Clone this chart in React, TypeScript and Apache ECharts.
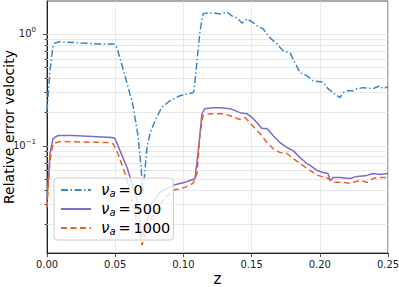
import React, { useEffect, useRef } from "react";
import * as echarts from "echarts";

// nu_a = 0
const zNu0 = [0, 0.0022, 0.0044, 0.0059, 0.0095, 0.0242, 0.0389, 0.0491, 0.0513, 0.0572, 0.063, 0.0667, 0.0689, 0.0704, 0.0718, 0.0733, 0.0755, 0.0792, 0.0841, 0.0902, 0.0975, 0.107, 0.1078, 0.11, 0.1122, 0.1144, 0.1173, 0.1217, 0.1268, 0.132, 0.1356, 0.1393, 0.143, 0.1466, 0.1503, 0.154, 0.1584, 0.1635, 0.1686, 0.173, 0.1782, 0.1818, 0.1855, 0.1906, 0.195, 0.2023, 0.206, 0.2097, 0.2148, 0.217, 0.22, 0.2243, 0.2273, 0.2317, 0.239, 0.2441, 0.2463, 0.25];
const vNu0 = [0.205, 0.47, 0.78, 0.83, 0.85, 0.83, 0.81, 0.81, 0.75, 0.42, 0.23, 0.123, 0.066, 0.036, 0.06, 0.096, 0.128, 0.167, 0.22, 0.252, 0.279, 0.297, 0.31, 0.574, 1.06, 1.51, 1.54, 1.54, 1.51, 1.57, 1.45, 1.39, 1.25, 1.36, 1.28, 1.18, 1.11, 0.921, 0.814, 0.705, 0.676, 0.551, 0.449, 0.422, 0.38, 0.37, 0.323, 0.297, 0.268, 0.297, 0.31, 0.31, 0.323, 0.33, 0.323, 0.343, 0.323, 0.336];

// nu_a = 500
const zNu500 = [0, 0.0022, 0.0044, 0.0081, 0.0191, 0.0477, 0.0499, 0.0535, 0.0587, 0.066, 0.0696, 0.0726, 0.0755, 0.0828, 0.0924, 0.1012, 0.1085, 0.1107, 0.1136, 0.1158, 0.1217, 0.1268, 0.1342, 0.1415, 0.1466, 0.1503, 0.154, 0.1576, 0.1613, 0.1657, 0.1708, 0.176, 0.1804, 0.1855, 0.1906, 0.1928, 0.198, 0.2023, 0.206, 0.2075, 0.2097, 0.2148, 0.2221, 0.2273, 0.2346, 0.239, 0.2441, 0.2493, 0.25];
const vNu500 = [0.0323, 0.0849, 0.1155, 0.123, 0.123, 0.118, 0.1155, 0.09, 0.0636, 0.0323, 0.0151, 0.019, 0.029, 0.038, 0.044, 0.0468, 0.0507, 0.0849, 0.193, 0.214, 0.218, 0.218, 0.214, 0.197, 0.193, 0.178, 0.16, 0.142, 0.142, 0.123, 0.106, 0.096, 0.09, 0.078, 0.069, 0.0663, 0.0598, 0.0574, 0.0562, 0.0487, 0.0518, 0.0518, 0.0507, 0.0529, 0.054, 0.0562, 0.0551, 0.0562, 0.0562];

// nu_a = 1000
const zNu1000 = [0, 0.0022, 0.0044, 0.0095, 0.044, 0.0484, 0.052, 0.0572, 0.063, 0.0696, 0.0755, 0.085, 0.0924, 0.1012, 0.107, 0.11, 0.1122, 0.1144, 0.1195, 0.129, 0.1342, 0.1378, 0.1415, 0.1452, 0.1488, 0.1525, 0.1562, 0.1613, 0.1657, 0.1708, 0.176, 0.1804, 0.1855, 0.1928, 0.1987, 0.206, 0.2097, 0.217, 0.2221, 0.2295, 0.2346, 0.239, 0.2441, 0.25];
const vNu1000 = [0.0279, 0.0735, 0.104, 0.1086, 0.1064, 0.104, 0.0849, 0.0562, 0.0303, 0.0128, 0.0214, 0.0323, 0.0397, 0.0422, 0.0458, 0.0562, 0.128, 0.185, 0.193, 0.193, 0.185, 0.178, 0.171, 0.178, 0.16, 0.142, 0.128, 0.1064, 0.094, 0.0866, 0.0849, 0.0766, 0.069, 0.0598, 0.054, 0.0507, 0.0468, 0.0468, 0.0458, 0.0487, 0.0468, 0.0507, 0.0518, 0.0518];

const seriesNames = ["nu0", "nu500", "nu1000"];
const legendValues = ["0", "500", "1000"];
const yMajorTicks = [0.1, 1];
const yMinorTicks = [0.02, 0.03, 0.04, 0.05, 0.06, 0.07, 0.08, 0.09, 0.2, 0.3, 0.4, 0.5, 0.6, 0.7, 0.8, 0.9];
const yMin = 0.0109;
const yMax = 1.97;

const FONT = "DejaVu Sans";

export default function App() {
  const ref = useRef<HTMLDivElement>(null);
  useEffect(() => {
    if (!ref.current) return;
    const chart = echarts.init(ref.current, null, { renderer: "svg" });
    const pairs = (z: number[], v: number[]) => z.map((x, i) => [x, v[i]]);
    const tickData = [
      ...yMajorTicks.map((v) => [0, v, 1]),
      ...yMinorTicks.map((v) => [0, v, 0]),
    ];
    const legendMap: Record<string, string> = {};
    seriesNames.forEach((n, i) => (legendMap[n] = legendValues[i]));
    chart.setOption({
      animation: false,
      grid: {
        left: 47, right: 11, top: 1, bottom: 34,
        containLabel: false,
        outerBoundsMode: "none",
        show: true, borderColor: "#555", borderWidth: 1, backgroundColor: "transparent",
      },
      xAxis: {
        type: "value",
        min: 0,
        max: 0.25,
        interval: 0.05,
        name: "z",
        nameLocation: "middle",
        nameGap: 18,
        nameMoveOverlap: false,
        nameTextStyle: { fontFamily: FONT, fontSize: 15, color: "#000" },
        axisLine: { lineStyle: { color: "#222", width: 1 } },
        axisTick: { show: true, inside: false, length: 4, lineStyle: { color: "#222", width: 0.8 } },
        axisLabel: { fontFamily: FONT, fontSize: 10, color: "#222", margin: 6, formatter: (v: number) => v.toFixed(2) },
        splitLine: { show: true, lineStyle: { color: "#e3e3e3", width: 0.8 } },
      },
      yAxis: {
        type: "log",
        logBase: 10,
        min: yMin,
        max: yMax,
        name: "Relative error velocity",
        nameLocation: "middle",
        nameGap: 31,
        nameMoveOverlap: false,
        nameRotate: 90,
        nameTextStyle: { fontFamily: FONT, fontSize: 14, color: "#000" },
        axisLine: { show: true, lineStyle: { color: "#222", width: 1 } },
        axisTick: { show: false },
        splitLine: { show: false },
        axisLabel: {
          showMinLabel: false,
          showMaxLabel: false,
          margin: 11,
          fontFamily: FONT,
          fontSize: 10,
          color: "#222",
          formatter: (v: number) => {
            const e = Math.log10(v);
            const r = Math.round(e);
            if (Math.abs(e - r) > 1e-6) return "";
            const exp = r < 0 ? "\u2212" + Math.abs(r) : String(r);
            return `{b|10}{s|${exp}}`;
          },
          rich: {
            b: { fontFamily: FONT, fontSize: 10, color: "#222" },
            s: { fontFamily: FONT, fontSize: 7, color: "#222", padding: [0, 0, 8, 0] },
          },
        },
      },
      legend: {
        show: true,
        orient: "vertical",
        left: 54,
        top: 178,
        data: seriesNames,
        itemWidth: 30,
        itemHeight: 14,
        itemGap: 3,
        padding: [4, 3, 4, 6],
        backgroundColor: "rgba(255,255,255,0.8)",
        borderColor: "#cccccc",
        borderWidth: 1,
        borderRadius: 3,
        itemStyle: { opacity: 0, borderWidth: 0 },
        formatter: (name: string) => `{g|\u03bd}{sub|a}{t|\u2009=\u2009${legendMap[name]}}`,
        textStyle: {
          fontFamily: FONT,
          rich: {
            g: { fontFamily: FONT, fontSize: 15, lineHeight: 18, fontStyle: "italic", color: "#000", padding: [0, 0, 0, 5] },
            sub: { fontFamily: FONT, fontSize: 10, lineHeight: 12, fontStyle: "italic", color: "#000", padding: [6, 0, 0, 0] },
            t: { fontFamily: FONT, fontSize: 14.5, lineHeight: 18, color: "#000" },
          },
        },
      },
      series: [
        {
          type: "custom",
          name: "grid",
          z: 1,
          silent: true,
          clip: false,
          encode: { x: 0, y: 1 },
          data: tickData,
          renderItem: (params: any, api: any) => {
            const v = api.value(1);
            const major = api.value(2);
            const pt = api.coord([0, v]);
            const cs = params.coordSys;
            const y = Math.round(pt[1]) + 0.5;
            return {
              type: "group",
              children: [
                { type: "line", shape: { x1: cs.x, y1: y, x2: cs.x + cs.width, y2: y }, style: { stroke: "#e3e3e3", lineWidth: 0.8 } },
                { type: "line", shape: { x1: cs.x - (major ? 4 : 2.5), y1: y, x2: cs.x, y2: y }, style: { stroke: "#222", lineWidth: 0.8 } },
              ],
            };
          },
        },
        {
          type: "line",
          name: seriesNames[0],
          data: pairs(zNu0, vNu0),
          showSymbol: false,
          symbol: "none",
          symbolSize: 0,
          z: 3,
          color: "#3a87c8",
          lineStyle: { color: "#3a87c8", width: 1.5, type: [7, 2.5, 1.5, 2.5] },
        },
        {
          type: "line",
          name: seriesNames[1],
          data: pairs(zNu500, vNu500),
          showSymbol: false,
          symbol: "none",
          symbolSize: 0,
          z: 3,
          color: "#7b6cc6",
          lineStyle: { color: "#7b6cc6", width: 1.5, type: "solid" },
        },
        {
          type: "line",
          name: seriesNames[2],
          data: pairs(zNu1000, vNu1000),
          showSymbol: false,
          symbol: "none",
          symbolSize: 0,
          z: 3,
          color: "#f1601f",
          lineStyle: { color: "#f1601f", width: 1.5, type: [6, 3.5] },
        },
      ],
    });
    return () => chart.dispose();
  }, []);
  return <div ref={ref} style={{ width: 399, height: 287, position: "absolute", left: 0, top: 0 }} />;
}
